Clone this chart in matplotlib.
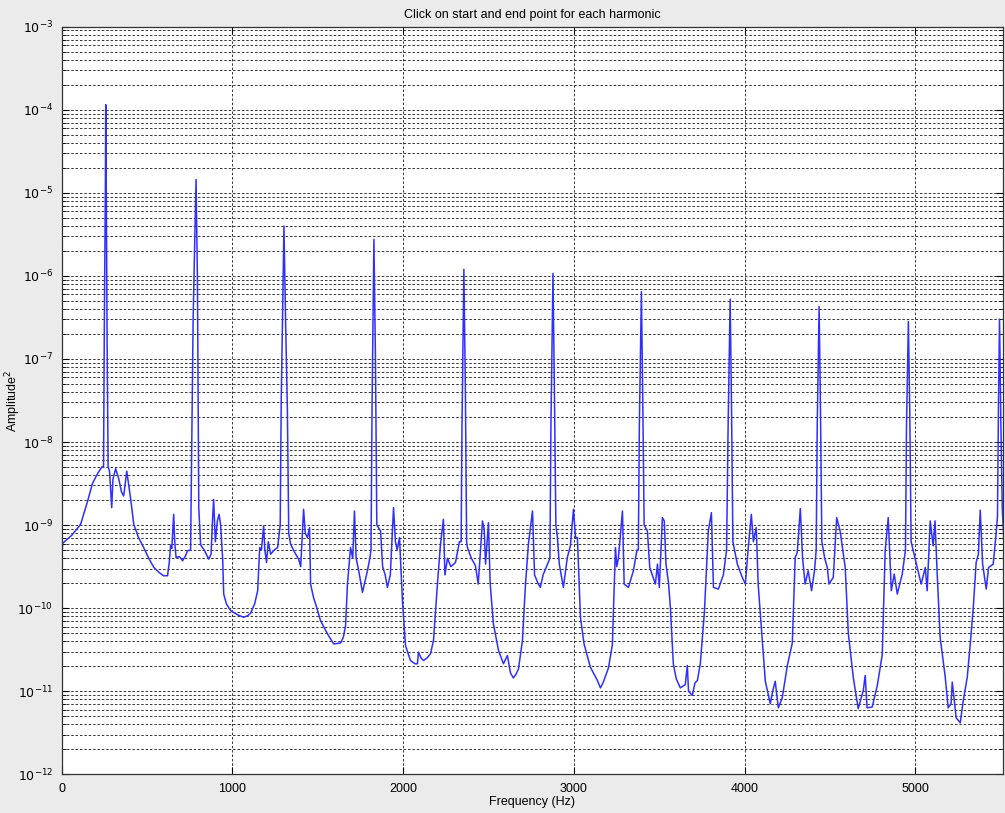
import numpy as np
import matplotlib.pyplot as plt
from matplotlib.ticker import NullFormatter, FixedLocator

# Spectrum: frequency [Hz] and log10 of amplitude^2
freq = [
    0, 5, 60, 111, 152, 180, 210, 235,
    245, 250, 256, 258, 261, 266, 272,
    280, 293, 300, 316, 335, 350, 363, 372, 381, 395, 405, 422, 450, 480, 510,
    540, 570, 597, 620, 630, 638, 645, 656, 662, 670, 690, 708, 725, 737, 755,
    762, 770, 787, 795, 803,
    814, 835, 861, 875, 882, 890, 900, 912, 922, 931, 943, 949, 965, 990, 1030,
    1066, 1090, 1107, 1130, 1148, 1160, 1170, 1183, 1190, 1200, 1210, 1224,
    1245, 1265, 1280,
    1286, 1302, 1312, 1322, 1330,
    1341, 1365, 1388, 1400, 1417, 1427, 1440, 1452, 1458, 1475, 1495, 1516,
    1557, 1593, 1633, 1650, 1663, 1674, 1692, 1705, 1715, 1725, 1740, 1762,
    1791, 1805, 1812,
    1818, 1829, 1838, 1846,
    1868, 1880, 1895, 1908, 1925, 1944, 1955, 1965, 1979, 1996, 2014, 2043,
    2070, 2084, 2090, 2105, 2119, 2140, 2160, 2178, 2201, 2219, 2236, 2245,
    2260, 2280, 2307, 2330, 2340,
    2345, 2356, 2365, 2372,
    2377, 2400, 2424, 2440, 2465, 2475, 2483, 2500, 2510, 2529, 2559, 2588,
    2611, 2629, 2646, 2660, 2676, 2699, 2717, 2734, 2758, 2770, 2790, 2804,
    2820, 2840, 2860,
    2866, 2878, 2887, 2895,
    2904, 2915, 2939, 2962, 2980, 2998, 3010, 3021, 3039, 3060, 3097, 3138,
    3156, 3173, 3203, 3226, 3244, 3252, 3261, 3285, 3295, 3320, 3349, 3370,
    3378,
    3384, 3396, 3404, 3412,
    3431, 3445, 3478, 3490, 3501, 3519, 3530, 3540, 3555, 3566, 3583, 3600,
    3624, 3653, 3665, 3672, 3694, 3710, 3724, 3741, 3765, 3788, 3806, 3818,
    3847, 3876, 3895,
    3904, 3916, 3924, 3932,
    3958, 3987, 4005, 4022, 4040, 4052, 4069, 4080, 4092, 4122, 4135, 4151,
    4165, 4180, 4198, 4221, 4251, 4280, 4297, 4309, 4327, 4340, 4355, 4373,
    4393, 4410, 4420,
    4426, 4437, 4445, 4453,
    4470, 4485, 4495, 4520, 4540, 4560, 4590, 4608, 4637, 4666, 4696, 4707,
    4718, 4748, 4778, 4807, 4824, 4842, 4860, 4877, 4895, 4924, 4943,
    4949, 4960, 4968, 4976,
    5012, 5035, 5059, 5070, 5088, 5105, 5116, 5128, 5146, 5176, 5193, 5210,
    5217, 5240, 5264, 5281, 5305, 5322, 5340, 5357, 5370, 5381, 5395, 5416,
    5430, 5457, 5474, 5482,
    5488, 5494, 5502, 5510, 5520,
]
log_amp = [
    -9.50, -9.22, -9.12, -8.99, -8.71, -8.50, -8.38, -8.30,
    -8.30, -6.50, -4.90, -3.94, -4.90, -6.80, -8.30,
    -8.35, -8.79, -8.45, -8.32, -8.45, -8.60, -8.65, -8.50, -8.35, -8.55, -8.70, -8.99, -9.15, -9.27, -9.40,
    -9.51, -9.57, -9.61, -9.61, -9.45, -9.24, -9.28, -8.87, -9.20, -9.39, -9.38, -9.43, -9.37, -9.31, -9.30,
    -8.00, -6.50, -4.84, -6.00, -8.80,
    -9.24, -9.30, -9.41, -9.35, -9.00, -8.69, -9.20, -8.95, -8.87, -9.00, -9.41, -9.83, -9.95, -10.03, -10.08,
    -10.11, -10.09, -10.06, -9.95, -9.79, -9.27, -9.30, -9.01, -9.30, -9.45, -9.20, -9.35,
    -9.30, -9.27, -9.00,
    -7.50, -5.40, -6.60, -7.60, -9.10,
    -9.23, -9.33, -9.41, -9.50, -8.81, -9.10, -9.15, -9.03, -9.71, -9.87, -10.00, -10.15,
    -10.31, -10.43, -10.42, -10.35, -10.21, -9.71, -9.27, -9.40, -8.83, -9.40, -9.55, -9.81,
    -9.55, -9.40, -9.30,
    -7.60, -5.56, -7.00, -9.00,
    -9.07, -9.50, -9.60, -9.75, -9.60, -8.79, -9.20, -9.30, -9.15, -9.91, -10.45, -10.63,
    -10.67, -10.67, -10.53, -10.60, -10.63, -10.60, -10.55, -10.39, -9.71, -9.23, -8.93, -9.60,
    -9.40, -9.50, -9.45, -9.20, -9.20,
    -7.80, -5.92, -7.40, -9.20,
    -9.27, -9.40, -9.49, -9.71, -8.95, -9.05, -9.47, -8.97, -9.70, -10.19, -10.51, -10.67,
    -10.57, -10.78, -10.84, -10.80, -10.73, -10.39, -9.71, -9.23, -8.83, -9.60, -9.70, -9.75,
    -9.60, -9.50, -9.40,
    -7.80, -5.97, -7.50, -9.00,
    -9.15, -9.47, -9.75, -9.39, -9.25, -8.81, -9.15, -9.15, -10.11, -10.43, -10.71, -10.87,
    -10.96, -10.89, -10.72, -10.44, -9.27, -9.50, -9.40, -8.83, -9.71, -9.75, -9.55, -9.30,
    -9.30,
    -7.80, -6.19, -7.50, -9.00,
    -9.07, -9.51, -9.71, -9.47, -9.75, -8.91, -8.95, -9.47, -9.70, -10.00, -10.67, -10.85,
    -10.96, -10.92, -10.69, -11.00, -11.05, -10.90, -10.87, -10.67, -10.05, -9.07, -8.85, -9.75,
    -9.77, -9.60, -9.30,
    -7.80, -6.28, -7.60, -9.20,
    -9.47, -9.63, -9.71, -9.27, -8.87, -9.20, -9.03, -9.71, -10.05, -10.88, -11.00, -11.15,
    -11.00, -10.88, -11.20, -11.08, -10.69, -10.42, -9.39, -9.33, -8.80, -9.39, -9.71, -9.55,
    -9.79, -9.55, -9.30,
    -7.80, -6.37, -7.60, -9.20,
    -9.40, -9.51, -9.71, -9.63, -8.91, -9.07, -9.51, -10.30, -10.83, -11.21, -10.99, -10.81,
    -11.20, -11.19, -10.93, -10.56, -9.31, -8.91, -9.79, -9.59, -9.83, -9.59, -9.30,
    -7.80, -6.55, -7.60, -9.20,
    -9.51, -9.71, -9.51, -9.79, -8.95, -9.25, -8.95, -9.55, -10.35, -10.83, -11.20, -11.15,
    -10.89, -11.32, -11.38, -11.12, -10.83, -10.44, -10.00, -9.45, -9.35, -8.82, -9.47, -9.77,
    -9.51, -9.47, -9.10, -8.90,
    -7.50, -6.52, -7.80, -8.80, -9.20,
]

x_ticks = [0, 1000, 2000, 3000, 4000, 5000]
y_decades = list(range(-12, -2))

amp = 10.0 ** np.array(log_amp)

fig = plt.figure(figsize=(10.05, 8.13), dpi=100)
fig.patch.set_facecolor("#ebebeb")
plt.rcParams["font.family"] = ["Liberation Sans", "DejaVu Sans"]

ax = fig.add_axes([0.0614, 0.0476, 0.9363, 0.9196])
ax.set_facecolor("white")

ax.plot(freq, amp, color="#2f2fff", linewidth=1.1)

ax.set_yscale("log")
ax.set_xlim(0, 5512.5)
ax.set_ylim(1e-12, 1e-3)

ax.xaxis.set_major_locator(FixedLocator(x_ticks))
major_y = [10.0 ** d for d in y_decades]
minor_y = [m * 10.0 ** d for d in y_decades[:-1] for m in range(2, 10)]
ax.yaxis.set_major_locator(FixedLocator(major_y))
ax.yaxis.set_minor_locator(FixedLocator(minor_y))
ax.set_yticklabels([r"$10^{%d}$" % d for d in y_decades])
ax.yaxis.set_minor_formatter(NullFormatter())

grid_style = dict(color="#333333", linestyle=(0, (2.5, 2.0)), linewidth=0.7)
ax.grid(True, which="major", axis="both", **grid_style)
ax.grid(True, which="minor", axis="y", **grid_style)

ax.tick_params(which="both", direction="in", top=True, right=True,
               labelsize=9, colors="black")
ax.tick_params(which="major", length=5, width=0.8)
ax.tick_params(which="minor", length=3, width=0.6)
ax.tick_params(axis="x", pad=6)
ax.tick_params(axis="y", pad=6)
for s in ax.spines.values():
    s.set_linewidth(0.9)
    s.set_color("#333333")

ax.set_title("Click on start and end point for each harmonic", fontsize=9, pad=6)
ax.set_xlabel("Frequency (Hz)", fontsize=9, labelpad=1)
ax.set_ylabel("Amplitude$^2$", fontsize=9, labelpad=-4)

plt.savefig("out.png", dpi=100, facecolor=fig.get_facecolor())
